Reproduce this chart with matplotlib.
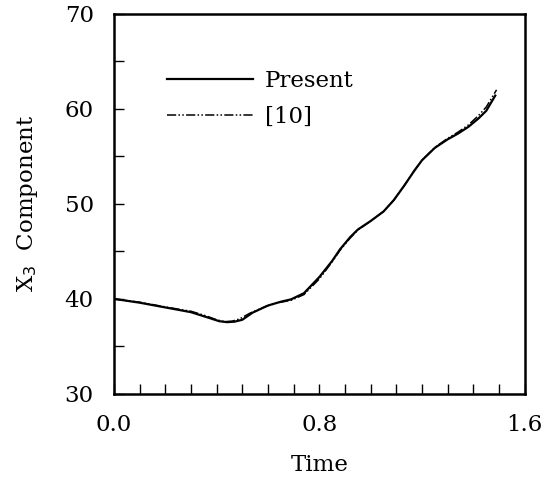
import matplotlib.pyplot as plt
from matplotlib.ticker import MultipleLocator

plt.rcParams['font.family'] = ['DejaVu Serif']

# values
time_present = [0.00, 0.10, 0.20, 0.30, 0.37, 0.41, 0.44, 0.47, 0.50, 0.54, 0.60, 0.65,
                0.69, 0.74, 0.80, 0.85, 0.88, 0.92, 0.95, 1.00, 1.05, 1.09, 1.13,
                1.17, 1.20, 1.25, 1.30, 1.34, 1.38, 1.42, 1.45, 1.485]
x3_present = [40.0, 39.6, 39.1, 38.6, 38.0, 37.65, 37.55, 37.6, 37.8, 38.55, 39.3, 39.7,
              39.95, 40.6, 42.3, 44.0, 45.2, 46.5, 47.3, 48.2, 49.2, 50.4, 51.9,
              53.5, 54.6, 55.9, 56.8, 57.4, 58.1, 59.0, 59.8, 61.4]

time_ref = [0.00, 0.10, 0.20, 0.30, 0.36, 0.40, 0.43, 0.46, 0.49, 0.53, 0.59, 0.64,
            0.69, 0.74, 0.80, 0.85, 0.88, 0.92, 0.95, 1.00, 1.05, 1.09, 1.13,
            1.17, 1.20, 1.25, 1.30, 1.34, 1.38, 1.42, 1.45, 1.49]
x3_ref = [40.0, 39.65, 39.15, 38.7, 38.2, 37.8, 37.6, 37.65, 37.9, 38.5, 39.2, 39.6,
          39.85, 40.45, 42.1, 43.9, 45.1, 46.4, 47.25, 48.2, 49.2, 50.4, 51.9,
          53.5, 54.6, 55.95, 56.9, 57.55, 58.3, 59.3, 60.2, 62.0]

FS = 16.5

fig = plt.figure(figsize=(5.53, 4.78), dpi=100)
ax = fig.add_axes([0.206, 0.176, 0.743, 0.795])

ax.plot(time_present, x3_present, color='black', lw=1.6, label='Present')
ax.plot(time_ref, x3_ref, color='black', lw=1.1, dashes=(6, 1.5, 1, 1.5, 1, 1.5),
        label='[10]')

ax.set_xlim(0, 1.6)
ax.set_ylim(30, 70)
ax.xaxis.set_major_locator(MultipleLocator(0.8))
ax.xaxis.set_minor_locator(MultipleLocator(0.1))
ax.yaxis.set_major_locator(MultipleLocator(10))
ax.yaxis.set_minor_locator(MultipleLocator(5))
ax.xaxis.set_major_formatter(lambda v, p: f'{v:.1f}')
ax.tick_params(which='both', direction='in', length=7, width=1, top=False, right=False,
               labelsize=FS, pad=14.5)
for s in ax.spines.values():
    s.set_linewidth(1.8)

ax.set_xlabel('Time', fontsize=FS, labelpad=13)
ax.set_ylabel('X$_3$  Component', fontsize=FS, labelpad=18)

ax.legend(loc='upper left', bbox_to_anchor=(0.129, 0.853), frameon=False, fontsize=FS,
          borderpad=0, borderaxespad=0,
          handlelength=3.75, handletextpad=0.52, labelspacing=0.62)

fig.savefig('out.png', dpi=100)
